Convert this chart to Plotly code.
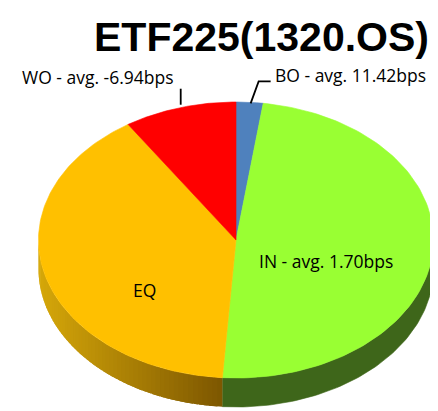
import numpy as np
import plotly.graph_objects as go

# ---- data ----
labels = ["BO", "IN", "EQ", "WO"]
values = [2.2, 48.9, 39.7, 9.2]
label_texts = ["BO - avg. 11.42bps", "IN - avg. 1.70bps", "EQ", "WO - avg. -6.94bps"]
title_text = "ETF225(1320.OS)"

# ---- style ----
top_colors = ["#4F81BD", "#99FF33", "#FFC000", "#FF0000"]
side_colors = [(46, 77, 115), (62, 102, 26), None, (153, 0, 0)]
W, H = 438, 411
OFF = 8  # page body margin
CX, CY, A, B, D = 236.0, 240.0, 197.5, 138.0, 29.0
FONT = "Open Sans"
LS = 17.5


def pt(theta, r=1.0, dy=0.0):
    t = np.radians(theta)
    return CX + A * r * np.sin(t), CY - B * r * np.cos(t) + dy


total = float(sum(values))
angles = np.cumsum([0.0] + [v / total * 360.0 for v in values])

fig = go.Figure()


def poly(xs, ys, color, lw=0.6):
    fig.add_trace(go.Scatter(x=list(xs), y=list(ys), mode="lines", fill="toself",
                             fillcolor=color, line=dict(width=lw, color=color),
                             hoverinfo="skip", showlegend=False))


def eq_side_color(x):
    f = np.clip((x - (CX - A)) / A, 0, 1)
    c0 = np.array([214, 168, 10])
    c1 = np.array([118, 80, 0])
    c = c0 + (c1 - c0) * f
    return "rgb(%d,%d,%d)" % tuple(c.astype(int))


# sides (front part only: 90..270 deg)
for i in range(len(values)):
    s, e = max(angles[i], 90.0), min(angles[i + 1], 270.0)
    if e <= s:
        continue
    if side_colors[i] is None:
        n = 60
        ts = np.linspace(s, e, n + 1)
        step = ts[1] - ts[0]
        for k in range(n):
            t = np.linspace(ts[k], min(ts[k + 1] + step * 0.8, e), 3)
            x1, y1 = pt(t)
            x2, y2 = pt(t[::-1], dy=D)
            col = eq_side_color(np.mean(x1))
            poly(np.r_[x1, x2], np.r_[y1, y2], col, lw=0)
    else:
        t = np.linspace(s, e, 80)
        x1, y1 = pt(t)
        x2, y2 = pt(t[::-1], dy=D)
        poly(np.r_[x1, x2], np.r_[y1, y2], "rgb(%d,%d,%d)" % side_colors[i])

# top faces
for i in range(len(values)):
    t = np.linspace(angles[i], angles[i + 1], 120)
    x, y = pt(t)
    poly(np.r_[CX, x, CX], np.r_[CY, y, CY], top_colors[i])

mids = (angles[:-1] + angles[1:]) / 2
ann = []
# inside labels
for i, (r, dy) in {1: (0.46, 14), 2: (0.48, 33)}.items():
    x, y = pt(mids[i], r=r, dy=dy)
    ann.append(dict(x=x, y=y, xref="x", yref="y", text=label_texts[i], showarrow=False,
                    font=dict(family=FONT, size=LS, color="#000")))

# WO outside label with vertical leader
x0, y0 = pt(mids[3])
fig.add_trace(go.Scatter(x=[x0 + 1, x0 + 1], y=[y0 - 3, y0 - 19], mode="lines",
                         line=dict(color="#000", width=1.8), hoverinfo="skip", showlegend=False))
ann.append(dict(x=x0 - 4, y=y0 - 31, xref="x", yref="y", xanchor="right", text=label_texts[3],
                showarrow=False, font=dict(family=FONT, size=LS, color="#000")))
# BO outside label with bent leader
x0, y0 = pt(mids[0])
fig.add_trace(go.Scatter(x=[x0 + 1, x0 + 9, x0 + 21], y=[y0 + 1, y0 - 21, y0 - 21], mode="lines",
                         line=dict(color="#000", width=1.8), hoverinfo="skip", showlegend=False))
ann.append(dict(x=x0 + 23, y=y0 - 27, xref="x", yref="y", xanchor="left", text=label_texts[0],
                showarrow=False, font=dict(family=FONT, size=LS, color="#000")))

ann.append(dict(x=261, y=12, xref="x", yref="y", yanchor="top", text="<b>%s</b>" % title_text,
                showarrow=False, font=dict(family="Liberation Sans", size=41, color="#000")))

fig.update_layout(
    width=W, height=H, margin=dict(l=0, r=0, t=0, b=0),
    paper_bgcolor="white", plot_bgcolor="white",
    xaxis=dict(range=[OFF, W + OFF], visible=False, fixedrange=True),
    yaxis=dict(range=[H + OFF, OFF], visible=False, fixedrange=True),
    annotations=ann, showlegend=False,
)
fig.write_html("out.html")
